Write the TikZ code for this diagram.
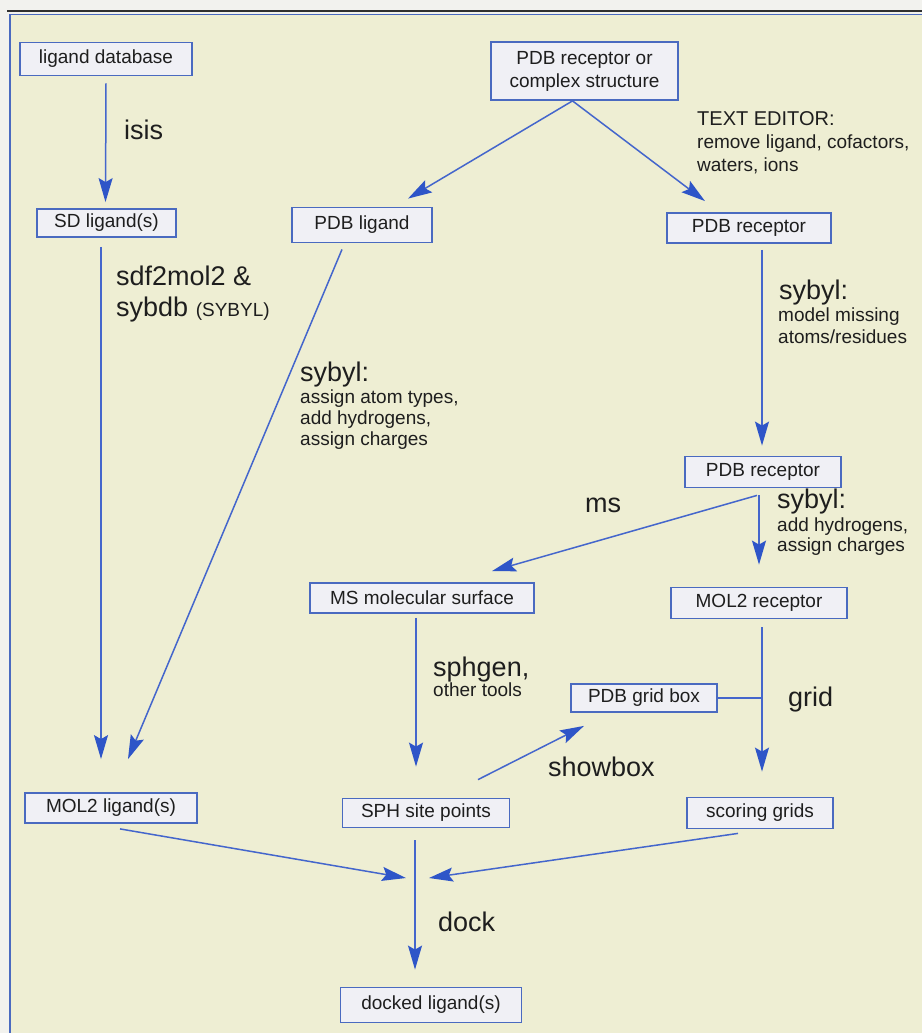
\documentclass[tikz,border=0pt]{standalone}
\usepackage{fontspec}
\setmainfont{Liberation Sans}
\usetikzlibrary{arrows.meta}
\definecolor{outerbg}{HTML}{F2F2EE}
\definecolor{innerbg}{HTML}{EEEED3}
\definecolor{boxfill}{HTML}{F0F0F5}
\definecolor{boxline}{HTML}{4A6AC0}
\definecolor{arrline}{HTML}{4466CC}
\definecolor{arrtip}{HTML}{2E55C8}
\definecolor{txt}{HTML}{1E1E1E}
\definecolor{frameDark}{HTML}{303030}
\tikzset{
  box/.style={draw=boxline, fill=boxfill, line width=1.8pt, text=txt, inner sep=0pt,
    font=\fontsize{19}{23}\selectfont, align=center},
  arr/.style={draw=arrline, line width=1.5pt,
    -{Stealth[length=24pt,width=14pt,inset=4pt,fill=arrtip,color=arrtip]}},
  plain/.style={draw=arrline, line width=1.5pt},
  biglab/.style={anchor=west, inner sep=0pt, text=txt, font=\fontsize{27}{31}\selectfont, align=left},
  smalllab/.style={anchor=west, inner sep=0pt, text=txt, font=\fontsize{19}{21}\selectfont, align=left},
}
\begin{document}
\begin{tikzpicture}[x=1pt,y=-1pt]
\useasboundingbox (0,0) rectangle (922,1033);
\fill[outerbg] (0,0) rectangle (922,1033);
\fill[innerbg] (10,14) rectangle (922,1033);
\draw[frameDark, line width=2pt] (7,11.5) -- (922,11.5);
\draw[boxline, line width=1.2pt] (10,1033) -- (10,14.5) -- (922,14.5);

% nodes
\node[box, minimum width=172, minimum height=33] (ligdb) at (106,59) {ligand database};
\node[box, minimum width=187, minimum height=58] (top) at (584.5,71) {PDB receptor or\\complex structure};
\node[box, minimum width=139, minimum height=28] (sd) at (106.5,223) {SD ligand(s)};
\node[box, minimum width=140, minimum height=35] (pdblig) at (362,225) {PDB ligand};
\node[box, minimum width=164, minimum height=30] (rec1) at (749,228) {PDB receptor};
\node[box, minimum width=156, minimum height=31] (rec2) at (763,472) {PDB receptor};
\node[box, minimum width=224, minimum height=30] (ms) at (422,598) {MS molecular surface};
\node[box, minimum width=176, minimum height=31] (mol2rec) at (759,603) {MOL2 receptor};
\node[box, minimum width=146, minimum height=28] (gridbox) at (644,698) {PDB grid box};
\node[box, minimum width=172, minimum height=30] (mol2lig) at (111,808) {MOL2 ligand(s)};
\node[box, minimum width=167, minimum height=29] (sph) at (426,813) {SPH site points};
\node[box, minimum width=146, minimum height=31] (scoring) at (760,813) {scoring grids};
\node[box, minimum width=181, minimum height=35] (docked) at (431,1005) {docked ligand(s)};

\coordinate (gj) at (762,698);
\coordinate (dockL) at (406,878);
\coordinate (dockR) at (429,878);

% connectors
\draw[arr] ([yshift=-7pt]ligdb.south) -- ([xshift=-1pt,yshift=6pt]sd.north);
\draw[arr] ([xshift=-5.5pt,yshift=-9pt]sd.south) -- ([xshift=-10pt,yshift=33pt]mol2lig.north);
\draw[arr] ([xshift=-20pt,yshift=-6pt]pdblig.south) -- ([xshift=17pt,yshift=33pt]mol2lig.north);
\draw[arr] ([xshift=-12pt]top.south) -- ([xshift=46pt,yshift=8pt]pdblig.north);
\draw[arr] ([xshift=-12pt]top.south) -- ([xshift=-44pt,yshift=11pt]rec1.north);
\draw[arr] ([xshift=13pt,yshift=-6pt]rec1.south) -- ([xshift=-1pt,yshift=10pt]rec2.north);
\draw[arr] ([xshift=-6pt,yshift=-7pt]rec2.south) -- ([xshift=70pt,yshift=11pt]ms.north);
\draw[arr] ([xshift=-4pt,yshift=-7pt]rec2.south) -- ([yshift=22pt]mol2rec.north);
\draw[arr] ([xshift=-6pt,yshift=-4pt]ms.south) -- ([xshift=-10pt,yshift=31pt]sph.north);
\draw[arr] ([xshift=3pt,yshift=-8pt]mol2rec.south) -- ([xshift=2pt,yshift=25pt]scoring.north);
\draw[plain] (gridbox.east) -- (gj);
\draw[arr] ([xshift=52pt,yshift=18pt]sph.north) -- ([xshift=-60pt,yshift=-13pt]gridbox.south);
\draw[arr] ([xshift=9pt,yshift=-5pt]mol2lig.south) -- (dockL);
\draw[arr] ([xshift=-22pt,yshift=-4pt]scoring.south) -- (dockR);
\draw[arr] ([xshift=-11pt,yshift=-12pt]sph.south) -- ([xshift=-16pt,yshift=17pt]docked.north);

% labels
\node[biglab] (lisis) at (124,130) {isis};
\node[biglab, anchor=north west] (lsdf) at (116,266) {sdf2mol2 \&\\sybdb {\fontsize{19}{21}\selectfont (SYBYL)}};
\node[biglab] (lsyb1) at (300,375) {sybyl:};
\node[smalllab, anchor=north west] (lsyb1s) at (300,390) {assign atom types,\\add hydrogens,\\assign charges};
\node[smalllab, anchor=north west, font=\fontsize{19}{23}\selectfont] (ltext) at (697,111) {{\fontsize{20}{23}\selectfont TEXT EDITOR:}\\remove ligand, cofactors,\\waters, ions};
\node[biglab] (lsyb2) at (779,293) {sybyl:};
\node[smalllab, anchor=north west, font=\fontsize{19}{22}\selectfont] (lsyb2s) at (778,308) {model missing\\atoms/residues};
\node[biglab] (lms) at (585,505) {ms};
\node[biglab] (lsyb3) at (777,502) {sybyl:};
\node[smalllab, anchor=north west, font=\fontsize{19}{20}\selectfont] (lsyb3s) at (777,518) {add hydrogens,\\assign charges};
\node[biglab] (lsph) at (433,670) {sphgen,};
\node[smalllab] (lother) at (433,690) {other tools};
\node[biglab] (lgrid) at (788,700) {grid};
\node[biglab] (lshow) at (548,767) {showbox};
\node[biglab] (ldock) at (438,922) {dock};
\end{tikzpicture}
\end{document}
